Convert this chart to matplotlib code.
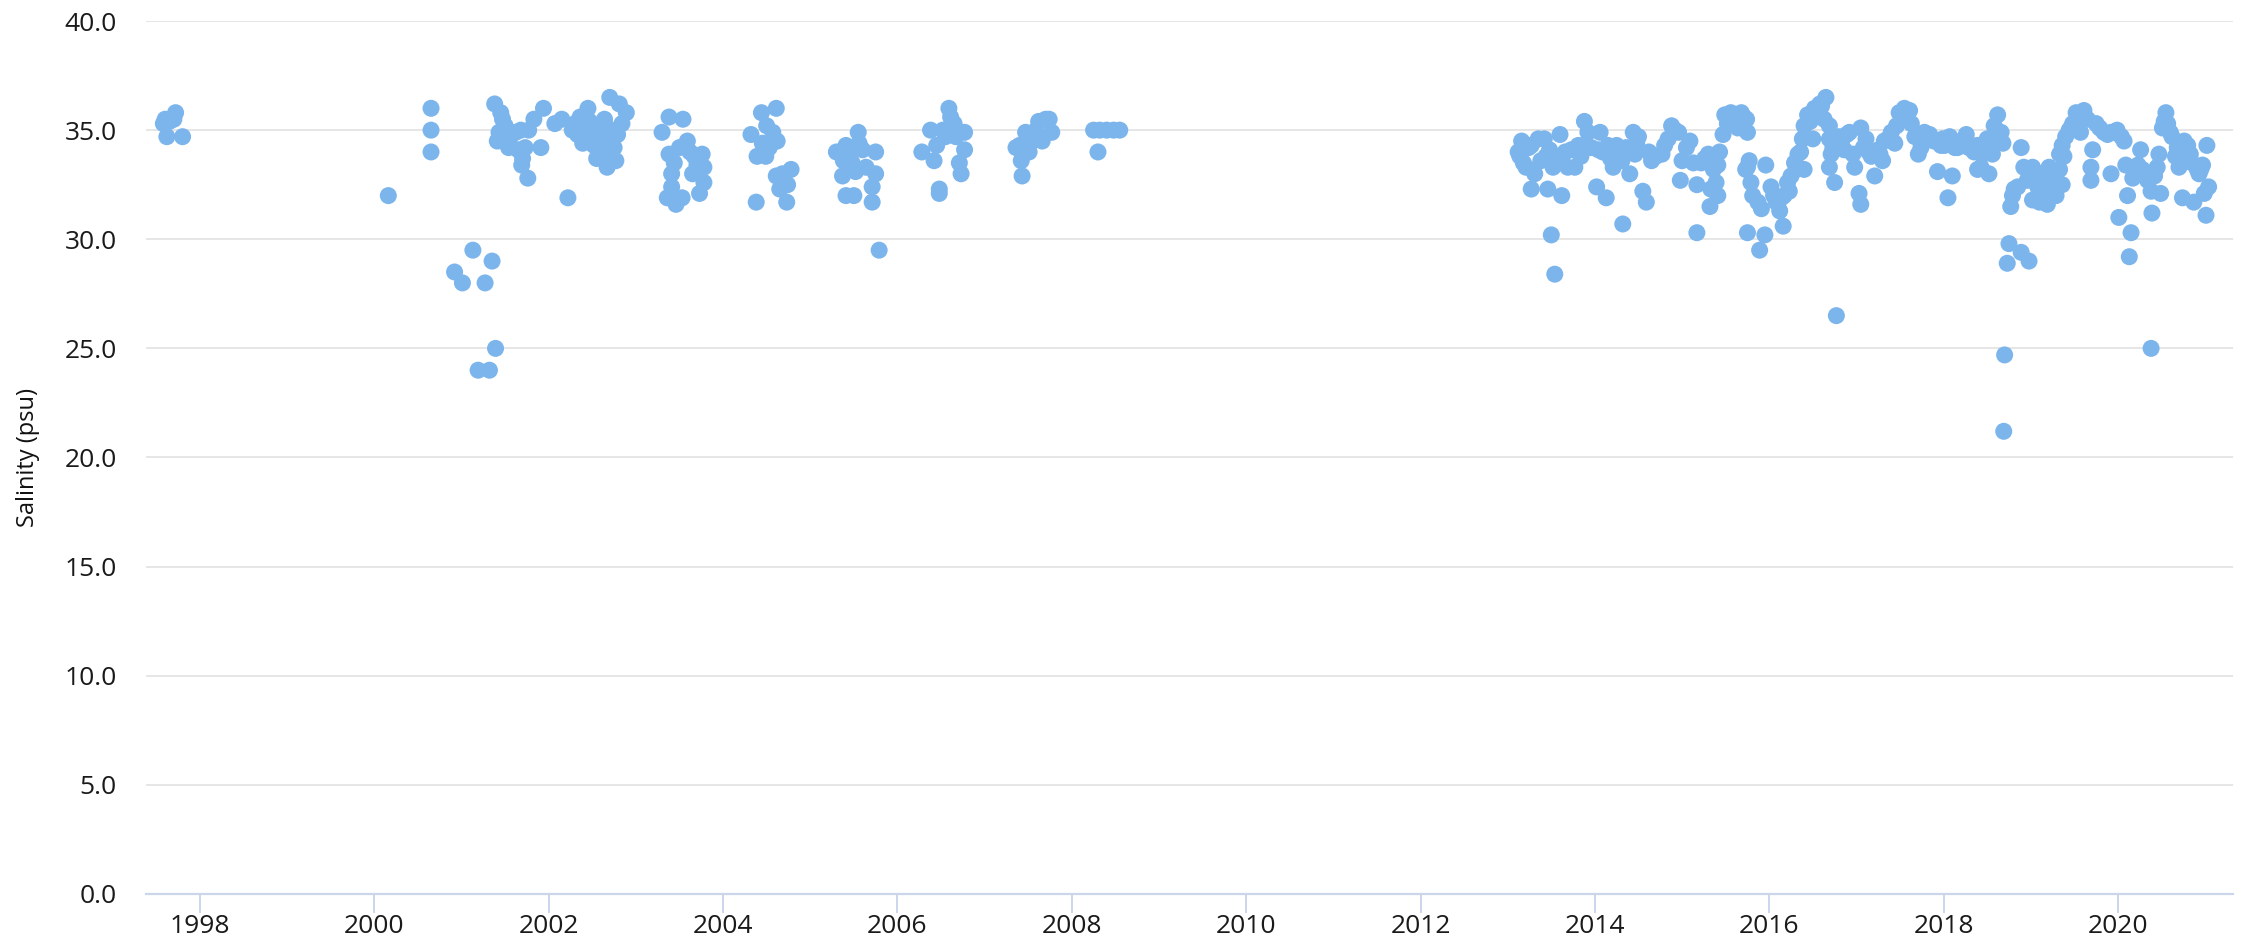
import matplotlib
matplotlib.use("Agg")
import matplotlib.pyplot as plt

# Salinity samples, decimal year / psu

# 1997 - 2001 campaign
years_1997_2001 = [1997.58, 1997.60, 1997.62, 1997.65, 1997.70, 1997.72, 1997.80,
                   2000.16, 2000.65, 2000.65, 2000.65,
                   2000.92, 2001.01, 2001.13, 2001.19, 2001.27, 2001.32, 2001.35, 2001.39,
                   2001.38, 2001.45, 2001.47, 2001.41, 2001.43, 2001.50, 2001.56, 2001.54,
                   2001.62, 2001.68, 2001.65, 2001.70, 2001.69, 2001.76, 2001.73, 2001.77,
                   2001.83, 2001.91, 2001.94]
salinity_1997_2001 = [35.3, 35.5, 34.7, 35.4, 35.5, 35.8, 34.7,
                      32.0, 36.0, 35.0, 34.0,
                      28.5, 28.0, 29.5, 24.0, 28.0, 24.0, 29.0, 25.0,
                      36.2, 35.8, 35.5, 34.5, 34.9, 35.2, 34.7, 34.2,
                      34.9, 35.0, 34.1, 33.7, 33.4, 32.8, 34.2, 35.0,
                      35.5, 34.2, 36.0]

# 2002 - 2004
years_2002_2004 = [2002.07, 2002.15, 2002.22, 2002.27, 2002.30, 2002.33, 2002.36, 2002.39,
                   2002.40, 2002.42, 2002.45, 2002.47, 2002.50, 2002.52, 2002.55, 2002.57,
                   2002.60, 2002.62, 2002.64, 2002.66, 2002.67, 2002.70, 2002.72, 2002.75,
                   2002.77, 2002.79, 2002.81, 2002.84, 2002.89,
                   2003.30, 2003.38, 2003.54, 2003.38, 2003.59, 2003.76, 2003.78, 2003.78,
                   2003.73, 2003.36, 2003.46, 2003.53, 2003.41, 2003.41, 2003.65, 2003.67,
                   2003.50, 2003.62, 2003.44, 2003.70,
                   2004.44, 2004.61, 2004.32, 2004.50, 2004.62, 2004.39, 2004.49, 2004.38,
                   2004.61, 2004.78, 2004.74, 2004.65, 2004.73, 2004.53, 2004.45, 2004.57,
                   2004.68]
salinity_2002_2004 = [35.3, 35.5, 31.9, 35.0, 35.3, 34.8, 35.6, 34.4,
                      35.0, 34.5, 36.0, 35.4, 34.9, 34.3, 33.7, 35.2,
                      34.6, 34.0, 35.5, 34.8, 33.3, 36.5, 35.0, 34.2,
                      33.6, 34.8, 36.2, 35.3, 35.8,
                      34.9, 35.6, 35.5, 33.9, 34.5, 33.9, 33.3, 32.6,
                      32.1, 31.9, 31.6, 31.9, 33.0, 32.4, 33.0, 33.8,
                      34.2, 34.0, 33.5, 33.4,
                      35.8, 36.0, 34.8, 35.2, 34.5, 33.8, 33.8, 31.7,
                      32.9, 33.2, 32.5, 32.3, 31.7, 34.2, 34.4, 34.9,
                      33.0]

# 2005 - 2008
years_2005_2008 = [2005.30, 2005.37, 2005.41, 2005.41, 2005.45, 2005.48, 2005.50, 2005.55,
                   2005.56, 2005.64, 2005.71, 2005.71, 2005.75, 2005.75, 2005.79, 2005.38,
                   2005.52, 2005.60,
                   2006.28, 2006.38, 2006.42, 2006.48, 2006.48, 2006.55, 2006.59, 2006.61,
                   2006.65, 2006.67, 2006.67, 2006.71, 2006.73, 2006.77, 2006.77, 2006.45,
                   2006.52,
                   2007.36, 2007.42, 2007.43, 2007.47, 2007.51, 2007.55, 2007.59, 2007.62,
                   2007.66, 2007.70, 2007.74, 2007.77, 2007.40,
                   2008.25, 2008.30, 2008.32, 2008.40, 2008.48, 2008.55]
salinity_2005_2008 = [34.0, 32.9, 34.3, 32.0, 33.8, 33.5, 32.0, 34.9,
                      34.4, 33.3, 32.4, 31.7, 34.0, 33.0, 29.5, 33.6,
                      33.1, 34.1,
                      34.0, 35.0, 33.6, 32.3, 32.1, 34.7, 36.0, 35.6,
                      35.3, 35.0, 34.7, 33.5, 33.0, 34.9, 34.1, 34.3,
                      35.0,
                      34.2, 33.6, 32.9, 34.9, 34.0, 34.5, 35.0, 35.4,
                      34.5, 35.5, 35.5, 34.9, 34.3,
                      35.0, 34.0, 35.0, 35.0, 35.0, 35.0]

# 2013 - 2016
years_2013_2016 = [2013.12, 2013.16, 2013.18, 2013.21, 2013.27, 2013.27, 2013.31, 2013.35,
                   2013.42, 2013.44, 2013.46, 2013.50, 2013.52, 2013.54, 2013.60, 2013.62,
                   2013.62, 2013.69, 2013.73, 2013.77, 2013.81, 2013.88, 2013.88, 2013.92,
                   2014.02, 2014.04, 2014.06, 2014.13, 2014.15, 2014.21, 2014.25, 2014.31,
                   2014.32, 2014.40, 2014.44, 2014.46, 2014.50, 2014.55, 2014.59, 2014.65,
                   2014.77, 2014.80, 2014.88, 2014.96, 2014.98, 2015.00, 2015.09, 2015.17,
                   2015.17, 2015.22, 2015.30, 2015.32, 2015.33, 2015.39, 2015.41, 2015.41,
                   2015.43, 2015.47, 2015.49, 2015.56, 2015.64, 2015.68, 2015.71, 2015.73,
                   2015.74, 2015.75, 2015.75, 2015.75, 2015.77, 2015.79, 2015.81, 2015.87,
                   2015.89, 2015.91, 2015.95, 2015.96,
                   2016.02, 2016.08, 2016.12, 2016.16, 2016.17, 2016.21, 2016.25, 2016.29,
                   2016.33, 2016.38, 2016.40, 2016.40, 2016.44, 2016.50, 2016.52, 2016.58,
                   2016.63, 2016.65, 2016.69, 2016.69, 2016.69, 2016.71, 2016.75, 2016.77,
                   2016.80, 2016.86, 2016.92, 2016.96, 2016.98,
                   2013.14, 2013.24, 2013.38, 2013.48, 2013.57, 2013.66, 2013.84, 2013.96,
                   2014.09, 2014.18, 2014.28, 2014.36, 2014.48, 2014.62, 2014.70, 2014.84,
                   2014.92, 2015.05, 2015.13, 2015.26, 2015.36, 2015.52, 2015.60, 2015.66,
                   2016.05, 2016.14, 2016.23, 2016.31, 2016.36, 2016.47, 2016.55, 2016.60,
                   2016.73, 2016.83, 2016.89]
salinity_2013_2016 = [34.0, 34.5, 33.5, 33.3, 32.3, 34.3, 33.0, 34.6,
                      34.6, 33.8, 32.3, 30.2, 33.3, 28.4, 34.8, 32.0,
                      33.8, 33.3, 34.1, 33.3, 34.3, 35.4, 34.3, 34.9,
                      32.4, 34.1, 34.9, 31.9, 34.3, 33.3, 34.3, 33.6,
                      30.7, 33.0, 34.9, 33.9, 34.7, 32.2, 31.7, 33.6,
                      33.9, 34.3, 35.2, 34.9, 32.7, 33.6, 34.5, 30.3,
                      32.5, 33.5, 33.9, 31.5, 32.3, 32.6, 32.0, 33.4,
                      34.0, 34.8, 35.7, 35.8, 35.1, 35.8, 35.6, 33.2,
                      35.5, 34.9, 33.3, 30.3, 33.6, 32.6, 32.0, 31.7,
                      29.5, 31.4, 30.2, 33.4,
                      32.4, 31.7, 31.3, 30.6, 32.0, 32.6, 32.9, 33.5,
                      33.9, 34.6, 33.2, 35.2, 35.7, 34.6, 36.0, 36.2,
                      35.5, 36.5, 35.2, 34.6, 33.3, 33.9, 32.6, 26.5,
                      34.7, 34.1, 34.9, 33.9, 33.3,
                      33.8, 34.2, 33.6, 34.1, 33.5, 34.0, 33.8, 34.2,
                      34.0, 33.7, 33.9, 34.2, 34.4, 34.0, 33.8, 34.6,
                      35.0, 34.2, 33.5, 33.7, 33.2, 35.3, 35.6, 35.4,
                      32.0, 31.9, 32.2, 33.2, 34.0, 35.4, 35.8, 36.1,
                      34.2, 34.5, 34.8]

# 2017 - 2021
years_2017_2021 = [2017.03, 2017.05, 2017.05, 2017.11, 2017.17, 2017.21, 2017.25, 2017.30,
                   2017.32, 2017.40, 2017.44, 2017.49, 2017.55, 2017.61, 2017.63, 2017.67,
                   2017.71, 2017.78, 2017.84, 2017.89, 2017.93, 2017.97,
                   2018.05, 2018.07, 2018.10, 2018.16, 2018.26, 2018.32, 2018.39, 2018.39,
                   2018.43, 2018.45, 2018.50, 2018.52, 2018.56, 2018.58, 2018.60, 2018.62,
                   2018.66, 2018.68, 2018.69, 2018.70, 2018.73, 2018.75, 2018.77, 2018.79,
                   2018.81, 2018.85, 2018.89, 2018.89, 2018.92, 2018.96, 2018.98,
                   2019.02, 2019.02, 2019.06, 2019.10, 2019.15, 2019.19, 2019.21, 2019.25,
                   2019.29, 2019.33, 2019.33, 2019.36, 2019.36, 2019.40, 2019.44, 2019.48,
                   2019.52, 2019.57, 2019.61, 2019.69, 2019.69, 2019.71, 2019.75, 2019.84,
                   2019.92, 2019.92, 2019.99,
                   2020.01, 2020.07, 2020.11, 2020.13, 2020.15, 2020.19, 2020.26, 2020.28,
                   2020.34, 2020.38, 2020.38, 2020.39, 2020.45, 2020.47, 2020.49, 2020.51,
                   2020.55, 2020.57, 2020.62, 2020.66, 2020.70, 2020.74, 2020.76, 2020.83,
                   2020.87, 2020.91, 2020.97, 2020.99, 2021.01, 2021.02, 2021.04,
                   2017.08, 2017.14, 2017.27, 2017.36, 2017.46, 2017.58, 2017.74, 2017.81,
                   2017.99, 2018.01, 2018.13, 2018.20, 2018.29, 2018.35, 2018.47, 2018.54,
                   2018.64, 2019.08, 2019.13, 2019.17, 2019.23, 2019.27, 2019.31, 2019.38,
                   2019.46, 2019.54, 2019.65, 2019.79, 2019.88, 2019.96, 2020.04, 2020.09,
                   2020.17, 2020.23, 2020.30, 2020.42, 2020.53, 2020.60, 2020.68, 2020.72,
                   2020.80, 2020.85, 2020.93, 2020.95]
salinity_2017_2021 = [32.1, 31.6, 35.1, 34.6, 33.8, 32.9, 34.1, 33.6,
                      34.5, 34.9, 34.4, 35.8, 36.0, 35.9, 35.3, 34.7,
                      33.9, 34.9, 34.8, 34.5, 33.1, 34.3,
                      31.9, 34.7, 32.9, 34.2, 34.8, 34.3, 33.2, 34.3,
                      33.3, 33.9, 34.6, 33.0, 33.9, 35.2, 34.8, 35.7,
                      34.9, 34.4, 21.2, 24.7, 28.9, 29.8, 31.5, 32.0,
                      32.3, 32.4, 29.4, 34.2, 33.3, 32.7, 29.0,
                      33.3, 31.8, 32.7, 31.7, 32.4, 31.6, 33.3, 32.6,
                      32.0, 33.2, 33.9, 32.5, 34.3, 34.7, 35.0, 35.3,
                      35.8, 34.9, 35.9, 33.3, 32.7, 34.1, 35.3, 34.9,
                      33.0, 34.9, 35.0,
                      31.0, 34.5, 32.0, 29.2, 30.3, 33.0, 34.1, 33.2,
                      32.7, 32.2, 25.0, 31.2, 33.3, 33.9, 32.1, 35.1,
                      35.8, 35.3, 34.7, 33.8, 33.3, 31.9, 34.5, 33.9,
                      31.7, 33.2, 33.4, 32.1, 31.1, 34.3, 32.4,
                      34.2, 34.0, 33.9, 34.6, 35.2, 35.6, 34.2, 34.6,
                      34.6, 34.3, 34.2, 34.5, 34.2, 34.0, 34.0, 34.4,
                      34.5, 32.4, 33.0, 32.1, 32.8, 32.0, 32.4, 33.8,
                      35.1, 35.5, 35.5, 35.1, 34.8, 34.9, 34.7, 33.4,
                      32.8, 33.4, 33.0, 32.9, 35.4, 34.9, 34.2, 34.0,
                      34.3, 33.5, 33.0, 33.2]

year_ticks = list(range(1998, 2021, 2))
salinity_ticks = [0, 5, 10, 15, 20, 25, 30, 35, 40]

years = years_1997_2001 + years_2002_2004 + years_2005_2008 + years_2013_2016 + years_2017_2021
salinity = (salinity_1997_2001 + salinity_2002_2004 + salinity_2005_2008
            + salinity_2013_2016 + salinity_2017_2021)

plt.rcParams['font.family'] = ['Open Sans', 'DejaVu Sans']

fig = plt.figure(figsize=(22.42, 9.47), dpi=100)
ax = fig.add_axes([0.0651, 0.056, 0.9309, 0.9218])

ax.scatter(years, salinity, s=150, color='#7cb5ec', edgecolors='none', zorder=3)

ax.set_xlim(1997.38, 2021.32)
ax.set_ylim(0, 40)
ax.set_xticks(year_ticks)
ax.set_xticklabels([str(y) for y in year_ticks])
ax.set_yticks(salinity_ticks)
ax.set_yticklabels(['%.1f' % v for v in salinity_ticks])

# highcharts-like styling
ax.grid(axis='y', color='#e6e6e6', linewidth=1.4, zorder=0)
ax.set_axisbelow(True)
for side in ['top', 'right', 'left']:
    ax.spines[side].set_visible(False)
ax.spines['bottom'].set_color('#ccd6eb')
ax.spines['bottom'].set_linewidth(1.6)
ax.tick_params(axis='y', length=0, pad=21, labelsize=19, labelcolor='#1a1a1a')
ax.tick_params(axis='x', length=13.5, width=1.4, color='#ccd6eb', pad=1,
               labelsize=19, labelcolor='#1a1a1a')

fig.text(28 / 2242, 0.517, 'Salinity (psu)', rotation=90, ha='center', va='center',
         fontsize=17, color='#111111')

fig.savefig('out.png', dpi=100)
